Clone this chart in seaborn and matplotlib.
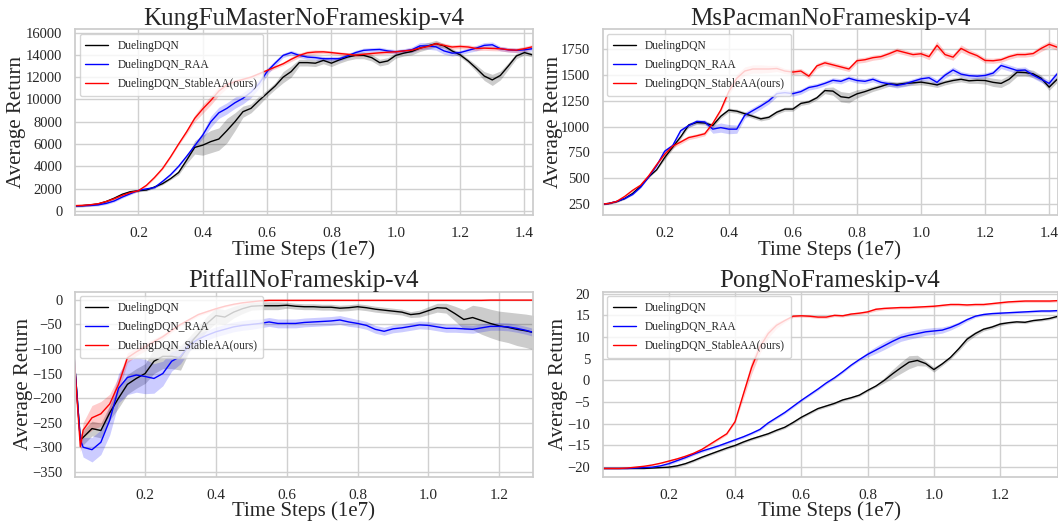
import numpy as np
import matplotlib
matplotlib.use("Agg")
import matplotlib.pyplot as plt
import seaborn as sns

# ---------------- data (x in units of 1e7 time steps) ----------------
series_names = ["DuelingDQN", "DuelingDQN_RAA", "DuelingDQN_StableAA(ours)"]
series_colors = ["black", "blue", "red"]

titles = ["KungFuMasterNoFrameskip-v4", "MsPacmanNoFrameskip-v4",
          "PitfallNoFrameskip-v4", "PongNoFrameskip-v4"]

# KungFuMaster: x = 0.000, 0.025, ..., 1.425
kungfu_x = np.round(np.arange(58) * 0.025, 3)
kungfu_dqn = [470, 480, 540, 630, 850, 1150, 1500, 1730, 1820, 1880, 2150, 2450, 2900, 3450,
              4550, 5700, 5900, 6220, 6450, 7200, 8000, 8900, 9200, 9900, 10550, 11200, 12000,
              12500, 13300, 13300, 13250, 13500, 13250, 13550, 13800, 13950, 13950, 13750,
              13300, 13450, 13950, 14150, 14300, 14600, 14800, 15000, 14800, 14350, 14000,
              13450, 12800, 12100, 11750, 12150, 13000, 13900, 14200, 14000]
kungfu_raa = [450, 470, 500, 550, 680, 900, 1250, 1550, 1850, 1980, 2100, 2650, 3250, 4000,
              4900, 5850, 6800, 8000, 8800, 9200, 9700, 10100, 10650, 11400, 12500, 13250,
              13950, 14200, 13950, 13800, 13750, 13650, 13650, 13650, 13900, 14200, 14400,
              14450, 14480, 14350, 14270, 14350, 14450, 14800, 14800, 14720, 14350, 14150,
              14200, 14400, 14600, 14850, 14900, 14550, 14450, 14400, 14450, 14550]
kungfu_saa = [480, 500, 560, 650, 850, 1100, 1400, 1650, 1820, 2300, 3000, 3800, 4850, 6000,
              7100, 8300, 9150, 9900, 10750, 11300, 11600, 11800, 12000, 12300, 12600, 12900,
              13200, 13600, 13950, 14180, 14250, 14270, 14200, 14120, 14050, 13970, 14050,
              14120, 14180, 14230, 14270, 14350, 14420, 14600, 14750, 15000, 14850, 14700,
              14750, 14700, 14570, 14600, 14570, 14550, 14450, 14420, 14550, 14720]
kungfu_dqn_sd = [100] * 13 + [200, 300, 600, 900, 1000, 1000, 1100, 800, 500, 400, 400, 300,
                              300, 500, 500, 300, 300, 300, 300, 300, 300, 300, 300, 300, 300,
                              300, 300, 250, 250, 300, 300, 300, 300, 200, 200, 200, 200, 300,
                              400, 500, 400, 300, 250, 200, 200]
kungfu_raa_sd = [100] * 15 + [200, 300, 500, 500, 500, 500, 500, 500, 400, 300, 250, 200, 200,
                              200, 200, 200, 200, 200, 200, 200, 200, 200, 200, 200, 200, 200,
                              200, 250, 300, 300, 300, 300, 250, 200, 200, 250, 250, 250, 200,
                              200, 200, 200, 200]
kungfu_saa_sd = [100] * 14 + [200, 300, 400, 400, 400, 300, 200, 150, 150, 150, 150, 150, 150,
                              200, 200, 200, 200, 150, 150, 150, 150, 150, 150, 150, 150, 150,
                              150, 150, 150, 150, 150, 200, 200, 200, 200, 200, 200, 200, 200,
                              200, 200, 200, 200, 200]

# MsPacman: x = 0.000, 0.025, ..., 1.425
pacman_x = np.round(np.arange(58) * 0.025, 3)
pacman_dqn = [245, 252, 270, 300, 350, 420, 510, 580, 698, 800, 900, 1015, 1040, 1035, 1010,
              1100, 1160, 1150, 1125, 1100, 1075, 1090, 1140, 1170, 1170, 1225, 1240, 1280,
              1350, 1345, 1290, 1280, 1318, 1340, 1367, 1390, 1416, 1410, 1420, 1425, 1432,
              1420, 1405, 1430, 1448, 1460, 1445, 1450, 1448, 1430, 1420, 1460, 1529, 1525,
              1513, 1470, 1383, 1460]
pacman_raa = [245, 252, 272, 300, 340, 410, 510, 620, 760, 815, 960, 1010, 1050, 1045, 975,
              990, 975, 975, 1110, 1155, 1200, 1250, 1320, 1330, 1320, 1340, 1380, 1395, 1420,
              1450, 1440, 1470, 1448, 1440, 1460, 1430, 1416, 1400, 1415, 1440, 1464, 1475,
              1430, 1500, 1550, 1510, 1495, 1490, 1497, 1520, 1594, 1570, 1545, 1550, 1500,
              1460, 1420, 1513]
pacman_saa = [245, 252, 272, 320, 380, 430, 520, 630, 730, 810, 850, 893, 910, 930, 1030, 1160,
              1340, 1470, 1540, 1560, 1560, 1560, 1565, 1540, 1530, 1540, 1490, 1590, 1620,
              1600, 1580, 1560, 1640, 1650, 1670, 1680, 1708, 1740, 1720, 1700, 1708, 1680,
              1790, 1700, 1675, 1760, 1720, 1690, 1643, 1640, 1650, 1680, 1700, 1700, 1710,
              1760, 1800, 1772]
pacman_dqn_sd = [8] * 8 + [20] * 20 + [30, 40, 50, 50, 40, 30, 25, 25, 25, 25, 25, 25, 25, 25,
                                       25, 25, 25, 25, 25, 30, 35, 40, 40, 40, 40, 35, 35, 30,
                                       30, 30]
pacman_raa_sd = [8] * 8 + [20] * 6 + [40, 45, 45, 40, 30, 30, 30, 30, 30, 30, 25, 25, 25, 25,
                                      25, 25, 25, 25, 25, 25, 25, 25, 25, 25, 25, 25, 25, 25,
                                      30, 30, 30, 25, 25, 25, 25, 25, 30, 30, 30, 30, 30, 30,
                                      30, 30]
pacman_saa_sd = [8] * 8 + [20] * 8 + [30, 40, 40, 40, 40, 35, 30, 25, 25, 25, 25, 25, 25, 25,
                                      25, 25, 25, 25, 25, 25, 25, 25, 25, 25, 25, 30, 40, 30,
                                      30, 35, 30, 25, 25, 25, 25, 25, 25, 25, 25, 30, 30, 30]

# Pitfall: x = 0.0, 0.017, 0.025, 0.050, ..., 1.300
pitfall_x = np.round(np.concatenate([[0.0, 0.017], np.arange(1, 53) * 0.025]), 3)
pitfall_dqn = [-120, -285, -280, -262, -266, -230, -200, -172, -160, -150, -125, -115, -115,
               -118, -90, -70, -48, -32, -35, -25, -18, -13, -12, -12, -12, -11, -13, -14, -14,
               -15, -15, -17, -16, -14, -16, -19, -21, -23, -25, -30, -28, -22, -16, -17, -28,
               -40, -36, -42, -48, -53, -56, -60, -63, -67]
pitfall_raa = [-120, -285, -300, -305, -290, -245, -180, -158, -153, -156, -160, -150, -125,
               -115, -92, -80, -72, -65, -60, -55, -52, -50, -48, -45, -48, -48, -48, -46, -45,
               -44, -43, -41, -45, -48, -52, -60, -64, -59, -57, -54, -51, -52, -55, -58, -58,
               -59, -60, -57, -54, -54, -55, -58, -62, -67]
pitfall_saa = [-120, -299, -265, -240, -232, -212, -172, -118, -106, -96, -85, -75, -62, -50,
               -40, -30, -24, -18, -13, -9, -6, -4, -2, -1, -1, -1, -1, -1, -1, -1, -1, -1, -1,
               -1, -1, -1, -1, -1, -1, -1, -1, -1, -1, -1, -1, -1, -1, -1, -0.5, -0.5, -0.5,
               -0.5, -0.5, -0.5]
pitfall_dqn_sd = [2, 10, 15, 15, 15, 15, 20, 20, 20, 20, 25, 25, 25, 25, 15, 15, 15, 15, 15, 12,
                  10, 8, 8, 8, 8, 6, 6, 6, 6, 6, 6, 6, 6, 6, 6, 6, 6, 6, 6, 6, 7, 8, 9, 10,
                  15, 20, 25, 28, 29, 30, 31, 33, 34, 35]
pitfall_raa_sd = [2, 15, 20, 25, 25, 30, 30, 35, 35, 35, 30, 25, 20, 15, 12, 12, 10, 10, 10,
                  10, 10, 10, 9, 9, 9, 9, 9, 9, 9, 9, 9, 9, 9, 8, 8, 8, 8, 8, 8, 8, 8, 8, 8, 8,
                  8, 8, 8, 8, 8, 8, 8, 8, 8, 8]
pitfall_saa_sd = [2, 10, 15, 25, 25, 20, 15, 10, 8, 8, 6, 5, 4, 3, 3, 3, 3, 2, 2, 2, 2, 1, 1, 1,
                  1, 1, 1, 1, 1, 1, 1, 1, 1, 1, 1, 1, 1, 1, 1, 1, 1, 1, 1, 1, 1, 1, 1, 1, 1, 1,
                  1, 1, 1, 1]

# Pong: x = 0.000, 0.025, ..., 1.375
pong_x = np.round(np.arange(56) * 0.025, 3)
pong_dqn = [-20.3, -20.3, -20.3, -20.3, -20.3, -20.3, -20.2, -20.1, -20.0, -19.7, -19.2, -18.5,
            -17.7, -17.0, -16.3, -15.6, -15.0, -14.2, -13.5, -12.9, -12.3, -11.5, -10.8, -9.7,
            -8.5, -7.5, -6.5, -5.9, -5.3, -4.5, -4.0, -3.4, -2.3, -1.3, 0.0, 1.5, 2.9, 4.2, 4.6,
            3.9, 2.5, 3.8, 5.3, 7.3, 9.5, 10.8, 11.8, 12.3, 13.0, 13.3, 13.5, 13.4, 13.8, 14.0,
            14.3, 14.8]
pong_raa = [-20.3, -20.3, -20.3, -20.3, -20.2, -20.1, -20.0, -19.7, -19.2, -18.5, -17.8, -17.0,
            -16.3, -15.7, -15.1, -14.4, -13.7, -13.0, -12.2, -11.3, -9.8, -8.6, -7.4, -6.0,
            -4.6, -3.3, -2.0, -0.6, 0.6, 2.0, 3.5, 4.8, 6.0, 7.0, 8.0, 9.0, 9.9, 10.4, 10.8,
            11.2, 11.4, 11.6, 12.2, 13.0, 14.0, 14.8, 15.2, 15.4, 15.5, 15.6, 15.7, 15.8, 15.9,
            16.0, 16.0, 16.1]
pong_saa = [-20.3, -20.3, -20.3, -20.2, -20.0, -19.8, -19.5, -19.1, -18.6, -18.1, -17.5, -16.8,
            -15.9, -14.7, -13.5, -12.3, -9.5, -3.2, 3.0, 7.7, 10.8, 12.7, 13.8, 14.8, 14.9, 14.8,
            14.6, 14.6, 15.0, 14.9, 15.3, 15.5, 15.8, 16.4, 16.6, 16.7, 16.8, 16.8, 16.9, 17.0,
            17.1, 17.3, 17.5, 17.5, 17.4, 17.5, 17.5, 17.7, 17.9, 18.1, 18.2, 18.3, 18.3, 18.3,
            18.3, 18.4]
pong_dqn_sd = [0.1] * 8 + [0.3] * 26 + [0.6, 1.0, 1.3, 1.5, 1.2, 0.6, 0.6, 0.4, 0.4, 0.5, 0.6,
                                        0.5, 0.4, 0.4, 0.4, 0.3, 0.3, 0.3, 0.3, 0.3, 0.3, 0.3]
pong_raa_sd = [0.1] * 8 + [0.3] * 24 + [0.6, 0.8, 0.9, 0.9, 0.9, 0.9, 0.9, 0.8, 0.8, 0.7, 0.6,
                                        0.5, 0.4, 0.3, 0.3, 0.3, 0.3, 0.3, 0.3, 0.3, 0.3, 0.3,
                                        0.3, 0.3]
pong_saa_sd = [0.1] * 8 + [0.3] * 9 + [1.0, 1.5, 1.5, 1.0, 0.7, 0.4, 0.3, 0.3, 0.3, 0.3, 0.3,
                                       0.3, 0.3, 0.3, 0.3, 0.3, 0.4, 0.3, 0.3, 0.3, 0.3, 0.3, 0.3,
                                       0.3, 0.3, 0.3, 0.3, 0.3, 0.3, 0.3, 0.3, 0.3, 0.3, 0.3, 0.3,
                                       0.3, 0.3, 0.3, 0.3]

panels = [
    (kungfu_x, [kungfu_dqn, kungfu_raa, kungfu_saa], [kungfu_dqn_sd, kungfu_raa_sd, kungfu_saa_sd]),
    (pacman_x, [pacman_dqn, pacman_raa, pacman_saa], [pacman_dqn_sd, pacman_raa_sd, pacman_saa_sd]),
    (pitfall_x, [pitfall_dqn, pitfall_raa, pitfall_saa], [pitfall_dqn_sd, pitfall_raa_sd, pitfall_saa_sd]),
    (pong_x, [pong_dqn, pong_raa, pong_saa], [pong_dqn_sd, pong_raa_sd, pong_saa_sd]),
]

xlims = [(0.003, 1.425), (0.006, 1.426), (0.002, 1.294), (0.0, 1.373)]
ylims = [(-360, 16270), (140, 1944), (-360, 17), (-22.2, 20.5)]
yticks = [np.arange(0, 16001, 2000), np.arange(250, 1751, 250),
          np.arange(-350, 1, 50), np.arange(-20, 21, 5)]
xticks = [[0.2, 0.4, 0.6, 0.8, 1.0, 1.2, 1.4], [0.2, 0.4, 0.6, 0.8, 1.0, 1.2, 1.4],
          [0.2, 0.4, 0.6, 0.8, 1.0, 1.2], [0.2, 0.4, 0.6, 0.8, 1.0, 1.2]]
ylabel_x = [-0.107, -0.086, -0.091, -0.075]

# ---------------- style ----------------
sns.set_theme(style="whitegrid")
plt.rcParams["font.family"] = ["Liberation Serif", "DejaVu Serif"]
plt.rcParams["axes.edgecolor"] = "#cccccc"
plt.rcParams["grid.color"] = "#d0d0d0"

W, H = 1058, 523
fig = plt.figure(figsize=(W / 100, H / 100), dpi=100)
rects = [
    (75, 29.5, 532.5, 215), (602.5, 29.5, 1057.5, 215),
    (75, 291.5, 532.5, 476.7), (602.5, 291.5, 1057.5, 476.7),
]

for i, (x, ys, sds) in enumerate(panels):
    l, t, r, b = rects[i]
    ax = fig.add_axes([l / W, 1 - b / H, (r - l) / W, (b - t) / H])
    for y, sd, name, col in zip(ys, sds, series_names, series_colors):
        y = np.asarray(y, dtype=float)
        sd = np.asarray(sd, dtype=float)
        ax.fill_between(x, y - sd, y + sd, color=col, alpha=0.2, linewidth=0)
        sns.lineplot(x=x, y=y, color=col, linewidth=1.0, label=name, ax=ax)
    ax.set_xlim(*xlims[i])
    ax.set_ylim(*ylims[i])
    ax.set_xticks(xticks[i])
    ax.set_xticklabels([f"{v:.1f}" for v in xticks[i]])
    ax.set_yticks(yticks[i])
    ax.tick_params(axis="x", labelsize=11, pad=2.5)
    ax.tick_params(axis="y", labelsize=10.5, pad=3)
    ax.set_title(titles[i], fontsize=18, pad=3)
    ax.set_xlabel("Time Steps (1e7)", fontsize=15, labelpad=0)
    ax.set_ylabel("Average Return", fontsize=15)
    ax.yaxis.set_label_coords(ylabel_x[i], 0.5)
    leg = ax.legend(loc="upper left", fontsize=8.3, framealpha=0.8, borderaxespad=0.4,
                    labelspacing=0.62, borderpad=0.5)
    leg.get_frame().set_edgecolor("#cccccc")
    for sp in ax.spines.values():
        sp.set_color("#cccccc")

fig.savefig("out.png", dpi=100)
